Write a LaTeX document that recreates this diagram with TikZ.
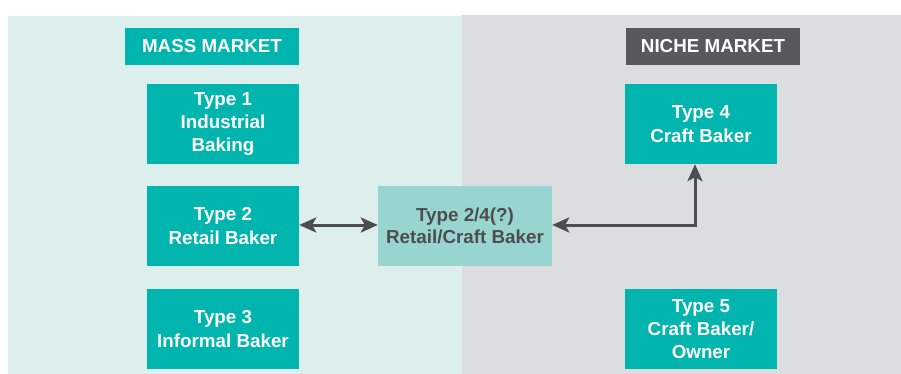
\documentclass[tikz,border=0pt]{standalone}
\usepackage{fontspec}
\setmainfont{Liberation Sans}
\usetikzlibrary{arrows.meta}
\definecolor{tealbox}{HTML}{00B5AD}
\definecolor{lightbg}{HTML}{DCEFEC}
\definecolor{graybg}{HTML}{DCDDDF}
\definecolor{midbox}{HTML}{98D5D1}
\definecolor{darkgray}{HTML}{58595B}
\definecolor{arrowgray}{HTML}{4D4D4F}
\tikzset{
  typebox/.style={fill=tealbox, draw=none, text=white, font=\bfseries\fontsize{18.8}{23.3}\selectfont,
    minimum width=152pt, minimum height=80pt, align=center, inner sep=0pt},
  headbox/.style={draw=none, text=white, font=\bfseries\fontsize{18.8}{22}\selectfont,
    minimum width=174pt, minimum height=37pt, inner sep=0pt},
  midstyle/.style={fill=midbox, draw=none, text=arrowgray, font=\bfseries\fontsize{18.8}{22}\selectfont,
    minimum width=174pt, minimum height=80pt, align=center, inner sep=0pt},
  tip/.tip={Stealth[length=17pt,width=15pt,inset=4pt]},
  link/.style={draw=arrowgray, line width=3pt, tip-tip}
}
\begin{document}
\begin{tikzpicture}[x=1pt,y=-1pt]
\useasboundingbox (0,0) rectangle (901,374);
\fill[white] (0,0) rectangle (901,374);
\fill[lightbg] (8,16) rectangle (462,374);
\fill[graybg] (462,15) rectangle (901,374);
\node[headbox, fill=tealbox] (mass) at (212,46.5) {MASS MARKET};
\node[headbox, fill=darkgray] (niche) at (713,46.5) {NICHE MARKET};
\node[typebox] (t1) at (223,124) {Type 1\\Industrial\\Baking};
\node[typebox] (t2) at (223,226) {Type 2\\Retail Baker};
\node[typebox] (t3) at (223,329) {Type 3\\Informal Baker};
\node[typebox] (t4) at (701,124) {Type 4\\Craft Baker};
\node[typebox] (t5) at (701,329) {Type 5\\Craft Baker/\\Owner};
\node[midstyle] (mid) at (465,226) {Type 2/4(?)\\Retail/Craft Baker};
\coordinate (corner) at (695,225);
\draw[link] (t2.east |- 0,225) -- (mid.west |- 0,225);
\draw[link] (mid.east |- 0,225) -- (corner) -- (corner |- t4.south);
\end{tikzpicture}
\end{document}
